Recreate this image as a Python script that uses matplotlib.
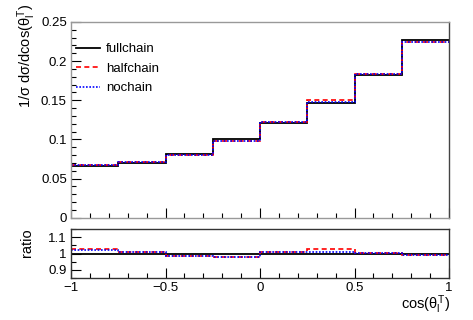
import numpy as np
import matplotlib
matplotlib.use("Agg")
import matplotlib.pyplot as plt
from matplotlib.ticker import MultipleLocator

plt.rcParams['font.family'] = ['Liberation Sans', 'DejaVu Sans']
plt.rcParams['mathtext.fontset'] = 'custom'
plt.rcParams['mathtext.rm'] = 'Liberation Sans'
plt.rcParams['mathtext.it'] = 'Liberation Sans'
plt.rcParams['mathtext.bf'] = 'Liberation Sans'

edges = [-1.0, -0.75, -0.5, -0.25, 0.0, 0.25, 0.5, 0.75, 1.0]
fullchain = [0.0657, 0.0705, 0.0815, 0.1002, 0.1208, 0.1465, 0.1825, 0.2270]
halfchain = [0.0676, 0.0711, 0.0800, 0.0980, 0.1218, 0.1502, 0.1836, 0.2243]
nochain   = [0.0673, 0.0711, 0.0803, 0.0980, 0.1222, 0.1480, 0.1836, 0.2243]
labels = ["fullchain", "halfchain", "nochain"]
xticks = [-1, -0.5, 0, 0.5, 1]
xticklabels = ["\u22121", "\u22120.5", "0", "0.5", "1"]

W, H = 473, 320
fig = plt.figure(figsize=(W / 100, H / 100), dpi=100)

ax = fig.add_axes([71 / W, 1 - 217.7 / H, (449 - 71) / W, (217.7 - 22) / H])
axr = fig.add_axes([71 / W, 1 - 277.7 / H, (449 - 71) / W, (277.7 - 229.3) / H])

full = np.array(fullchain)
half = np.array(halfchain)
no = np.array(nochain)

styles = [dict(color='black', lw=1.3, ls='-'),
          dict(color='#ff0000', lw=1.2, ls=(0, (3, 2))),
          dict(color='#0000ff', lw=1.2, ls=(0, (1, 1)))]

for vals, st, lab in zip([full, half, no], styles, labels):
    ax.stairs(vals, edges, label=lab, baseline=None, **st)

for vals, st in zip([full, half, no], styles):
    axr.stairs(vals / full, edges, baseline=None, **st)

ax.set_xlim(-1, 1)
ax.set_ylim(0, 0.25)
axr.set_xlim(-1, 1)
axr.set_ylim(0.85, 1.15)

for a in (ax, axr):
    a.tick_params(which='both', direction='in', top=False, right=False,
                  labelsize=9.5, colors='black', pad=3)
    a.tick_params(which='major', length=7, width=0.8)
    a.tick_params(which='minor', length=3.5, width=0.8)
    a.xaxis.set_major_locator(MultipleLocator(0.5))
    a.xaxis.set_minor_locator(MultipleLocator(0.1))

ax.yaxis.set_major_locator(MultipleLocator(0.05))
ax.yaxis.set_minor_locator(MultipleLocator(0.01))
ax.set_yticks([0, 0.05, 0.1, 0.15, 0.2, 0.25])
ax.set_yticklabels(["0", "0.05", "0.1", "0.15", "0.2", "0.25"])
ax.set_xticklabels([])
axr.set_yticks([0.9, 1.0, 1.1])
axr.set_yticklabels(["0.9", "1", "1.1"])
axr.yaxis.set_minor_locator(MultipleLocator(0.05))
axr.set_xticks(xticks)
axr.set_xticklabels(xticklabels)

for s in ['top', 'left', 'bottom']:
    ax.spines[s].set_color('#999999')
ax.spines['right'].set_color('#444444')
for s in ax.spines.values():
    s.set_linewidth(1.0)
for s in axr.spines.values():
    s.set_color('#333333')
    s.set_linewidth(1.0)

leg = ax.legend(loc='upper left', bbox_to_anchor=(5 / 378, 0.893), frameon=False,
                fontsize=9.5, handlelength=1.82, handletextpad=0.45,
                labelspacing=0.55, borderaxespad=0.0, borderpad=0.0)

fig.text(27 / W, 1 - 4 / H, r'1/$\sigma$ d$\sigma$/dcos($\theta_{l}^{T}$)',
         rotation=90, ha='center', va='top', fontsize=10.5)
fig.text(27 / W, 1 - 243 / H, 'ratio', rotation=90, ha='center', va='center',
         fontsize=10.5)
fig.text(450 / W, 1 - 305 / H, r'cos($\theta_{l}^{T}$)', ha='right',
         va='center', fontsize=10.5)

fig.savefig('out.png', dpi=100)
